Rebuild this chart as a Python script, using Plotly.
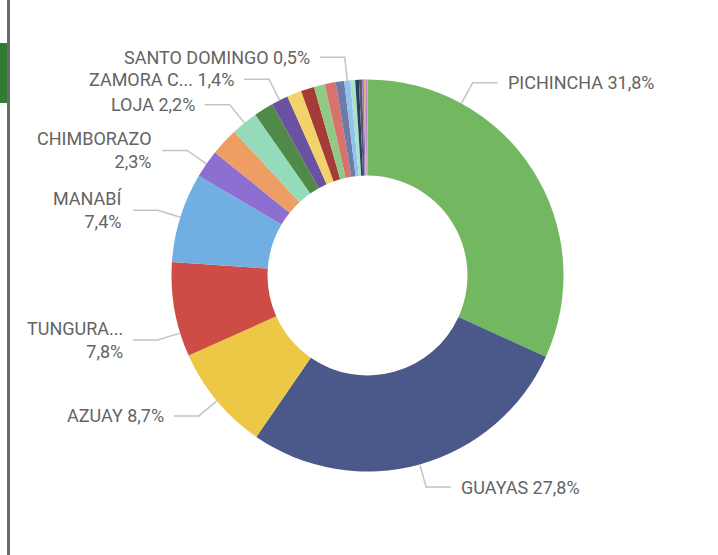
import math
import plotly.graph_objects as go

# ---------------- data ----------------
provinces = ["PICHINCHA", "GUAYAS", "AZUAY", "TUNGURAHUA", "MANABÍ", "CHIMBORAZO",
             "IMBABURA", "LOJA", "COTOPAXI", "ZAMORA CHINCHIPE", "EL ORO", "CAÑAR",
             "ESMERALDAS", "LOS RÍOS", "CARCHI", "SANTO DOMINGO", "BOLÍVAR", "NAPO",
             "PASTAZA", "MORONA SANTIAGO", "SUCUMBÍOS", "ORELLANA", "GALÁPAGOS"]
shares = [31.8, 27.8, 8.7, 7.8, 7.4, 2.3,
          2.3, 2.2, 1.6, 1.4, 1.2, 1.1,
          0.9, 0.9, 0.7, 0.5, 0.4, 0.3,
          0.25, 0.15, 0.15, 0.1, 0.05]
# labels shown (as truncated on the chart)
shown_labels = {"PICHINCHA": "PICHINCHA", "GUAYAS": "GUAYAS", "AZUAY": "AZUAY",
                "TUNGURAHUA": "TUNGURA...", "MANABÍ": "MANABÍ", "CHIMBORAZO": "CHIMBORAZO",
                "LOJA": "LOJA", "ZAMORA CHINCHIPE": "ZAMORA C...", "SANTO DOMINGO": "SANTO DOMINGO"}

# ---------------- style ----------------
colors = ["#73B761", "#4A588A", "#ECC846", "#CD4C46", "#71AFE2", "#8D6FD1",
          "#EE9E64", "#95DABB", "#4F8A48", "#6B52A1", "#F2D26A", "#A43B36",
          "#91C987", "#D9726B", "#6E7BA7", "#93C2EE", "#A9E2CC", "#2F3B5F",
          "#555B6E", "#8C7BC0", "#E9A96F", "#B57AC0", "#7FB4D9"]
two_line = {"TUNGURAHUA", "MANABÍ", "CHIMBORAZO"}
anchor_frac = {"PICHINCHA": 0.25, "TUNGURAHUA": 0.25}

W, H = 718, 555
CX, CY, R = 367.5, 275.5, 196.0
R_ELBOW, SEG, GAP = 219.5, 25, 8
TEXT_COLOR = "#646464"
LINE_COLOR = "#C4C4C4"
FONT = "Roboto"
FSIZE = 18


def px(x):
    return x / W


def py(y):
    return 1 - y / H


fig = go.Figure(go.Pie(
    labels=provinces, values=shares, hole=0.51, sort=False,
    direction="clockwise", rotation=0,
    marker=dict(colors=colors, line=dict(width=0)),
    textinfo="none", hovertemplate="%{label}: %{percent:.1%}<extra></extra>",
    domain=dict(x=[px(CX - R), px(CX + R)], y=[py(CY + R), py(CY - R)]),
    showlegend=False,
))

total = sum(shares)
cum = 0.0
shapes = []
annotations = []
for name, v in zip(provinces, shares):
    start = cum
    cum += v
    if name not in shown_labels:
        continue
    f = anchor_frac.get(name, 0.5)
    frac = (start + f * v) / total
    th = 2 * math.pi * frac
    s, c = math.sin(th), math.cos(th)
    x0, y0 = CX + R * s, CY - R * c
    x1, y1 = CX + R_ELBOW * s, CY - R_ELBOW * c
    right = s >= 0
    x2 = x1 + SEG if right else x1 - SEG
    shapes.append(dict(type="path", xref="paper", yref="paper",
                       path=f"M {px(x0)},{py(y0)} L {px(x1)},{py(y1)} L {px(x2)},{py(y1)}",
                       line=dict(color=LINE_COLOR, width=1.5)))
    pct = f"{100 * v / total:.1f}".replace(".", ",") + "%"
    sep = "<br>" if name in two_line else " "
    text = shown_labels[name] + sep + pct
    annotations.append(dict(
        x=px(x2 + GAP if right else x2 - GAP), y=py(y1), xref="paper", yref="paper",
        text=text, showarrow=False, xanchor="left" if right else "right",
        yanchor="middle", align="left" if right else "right",
        font=dict(family=FONT, size=FSIZE, color=TEXT_COLOR)))

# page decorations on the left edge
shapes.append(dict(type="rect", xref="paper", yref="paper", x0=px(7), x1=px(10), y0=0, y1=1,
                   fillcolor="#6B6B6B", line=dict(width=0), layer="below"))
shapes.append(dict(type="rect", xref="paper", yref="paper", x0=0, x1=px(7), y0=py(103), y1=py(43),
                   fillcolor="#2F7D32", line=dict(width=0), layer="below"))

fig.update_layout(
    width=W, height=H, margin=dict(l=0, r=0, t=0, b=0),
    paper_bgcolor="white", plot_bgcolor="white",
    shapes=shapes, annotations=annotations,
    separators=",.",
)
fig.write_html("out.html", config={"displayModeBar": False},
               post_script="document.body.style.margin='0';document.body.style.overflow='hidden';")
